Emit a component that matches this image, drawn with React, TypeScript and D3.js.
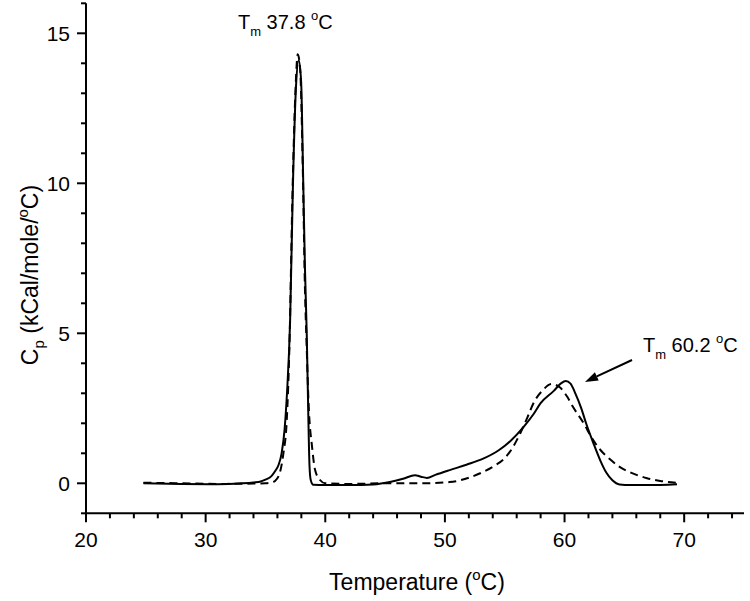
import React from "react";
import * as d3 from "d3";

const W = 750;
const H = 601;

const xTicksMajor = [20, 30, 40, 50, 60, 70];
const yTicksMajor = [0, 5, 10, 15];

// Solid trace (temperature °C, Cp kCal/mole/°C)
const solidT = [24.8, 28, 31, 33, 34, 34.6, 35.0, 35.5, 35.8, 36.1, 36.35, 36.6, 36.8, 37.06, 37.3, 37.55, 37.78, 37.98, 38.16, 38.3, 38.45, 38.59, 38.68, 38.78, 39.0, 40, 42, 44, 45.5, 46.5, 47.5, 48.0, 48.5, 49.2, 50.4, 51.8, 53.2, 54.5, 55.5, 56.6, 57.4, 58.0, 59.1, 59.7, 60.1, 60.5, 60.9, 61.4, 61.8, 62.4, 63.0, 63.5, 64.0, 64.6, 65.5, 67, 69.4];
const solidCp = [0.0, -0.02, -0.03, 0.0, 0.03, 0.06, 0.12, 0.24, 0.4, 0.62, 1.0, 1.8, 3.0, 5.4, 10.0, 13.2, 14.1, 13.4, 10.0, 7.2, 5.0, 2.1, 0.6, 0.12, -0.05, -0.06, -0.06, -0.04, 0.05, 0.15, 0.27, 0.22, 0.18, 0.28, 0.44, 0.62, 0.82, 1.1, 1.42, 1.89, 2.3, 2.67, 3.08, 3.33, 3.41, 3.32, 3.0, 2.5, 2.0, 1.35, 0.75, 0.35, 0.1, -0.04, -0.06, -0.06, -0.03];

// Dashed trace
const dashedT = [24.8, 28, 31, 34, 35, 35.5, 35.8, 36.2, 36.5, 36.78, 37.0, 37.25, 37.5, 37.7, 37.9, 38.12, 38.3, 38.45, 38.6, 38.9, 39.15, 39.56, 40.0, 42, 45, 47.9, 50.4, 52.1, 53.2, 54.2, 54.9, 55.6, 56.3, 56.9, 57.4, 58.2, 58.9, 59.6, 60.2, 60.7, 61.6, 62.3, 63.0, 63.8, 64.6, 65.7, 66.9, 68.0, 69.3];
const dashedCp = [0.02, 0.0, -0.02, -0.01, 0.0, 0.03, 0.08, 0.35, 1.0, 2.1, 4.5, 9.5, 13.0, 14.3, 13.8, 10.5, 6.5, 4.5, 2.7, 1.2, 0.44, 0.11, 0.0, -0.02, 0.0, 0.0, 0.04, 0.2, 0.38, 0.6, 0.8, 1.15, 1.67, 2.2, 2.67, 3.11, 3.31, 3.2, 2.9, 2.55, 2.0, 1.5, 1.11, 0.8, 0.55, 0.33, 0.17, 0.08, 0.02];

const arrowFrom = [65.64, 4.11];
const arrowTo = [61.71, 3.38];

export default function App() {
  const x = d3.scaleLinear().domain([20, 75]).range([86, 744]);
  const y = d3.scaleLinear().domain([-1, 16]).range([513.3, 3.3]);
  const x0 = x(20);
  const yb = y(-1);

  const line = d3
    .line<[number, number]>()
    .x((d) => x(d[0]))
    .y((d) => y(d[1]))
    .curve(d3.curveMonotoneX);

  const solid = solidT.map((t, i) => [t, solidCp[i]] as [number, number]);
  const dashed = dashedT.map((t, i) => [t, dashedCp[i]] as [number, number]);

  const xMinor = d3.range(20, 75.001, 2).filter((v) => !xTicksMajor.includes(v));
  const yMinor = d3.range(-1, 16.001, 1).filter((v) => !yTicksMajor.includes(v));

  const font = "Liberation Sans, Arial, sans-serif";

  // arrow geometry
  const ax1 = x(arrowFrom[0]);
  const ay1 = y(arrowFrom[1]);
  const ax2 = x(arrowTo[0]);
  const ay2 = y(arrowTo[1]);
  const ang = Math.atan2(ay2 - ay1, ax2 - ax1);
  const hl = 13;
  const hw = 4.5;
  const bx = ax2 - hl * Math.cos(ang);
  const by = ay2 - hl * Math.sin(ang);
  const head = `M${ax2},${ay2} L${bx + hw * Math.sin(ang)},${by - hw * Math.cos(ang)} L${bx - hw * Math.sin(ang)},${by + hw * Math.cos(ang)} Z`;

  return (
    <svg
      width={W}
      height={H}
      style={{ position: "absolute", left: 0, top: 0, background: "#fff" }}
      fontFamily={font}
    >
      <rect width={W} height={H} fill="#fff" />
      {/* curves */}
      <path d={line(dashed) || ""} fill="none" stroke="#000" strokeWidth={2} strokeDasharray="8,5" />
      <path d={line(solid) || ""} fill="none" stroke="#000" strokeWidth={2} />

      {/* axes */}
      <line x1={x0} x2={x0} y1={y(16)} y2={yb} stroke="#000" strokeWidth={2} />
      <line x1={x0 - 1} x2={x(75)} y1={yb} y2={yb} stroke="#000" strokeWidth={2} />
      {xTicksMajor.map((v) => (
        <g key={"xm" + v}>
          <line x1={x(v)} x2={x(v)} y1={yb} y2={yb + 9} stroke="#000" strokeWidth={2} />
          <text x={x(v)} y={547} textAnchor="middle" fontSize={21}>
            {v}
          </text>
        </g>
      ))}
      {xMinor.map((v) => (
        <line key={"xn" + v} x1={x(v)} x2={x(v)} y1={yb} y2={yb + 5} stroke="#000" strokeWidth={2} />
      ))}
      {yTicksMajor.map((v) => (
        <g key={"ym" + v}>
          <line x1={x0 - 9} x2={x0} y1={y(v)} y2={y(v)} stroke="#000" strokeWidth={2} />
          <text x={70} y={y(v) + 7.5} textAnchor="end" fontSize={21}>
            {v}
          </text>
        </g>
      ))}
      {yMinor.map((v) => (
        <line key={"yn" + v} x1={x0 - 5} x2={x0} y1={y(v)} y2={y(v)} stroke="#000" strokeWidth={2} />
      ))}

      {/* axis titles */}
      <text x={417} y={590} textAnchor="middle" fontSize={23}>
        Temperature (
        <tspan fontSize={15} dy={-10}>o</tspan>
        <tspan dy={10}>C)</tspan>
      </text>
      <text transform={`translate(38,${275}) rotate(-90)`} textAnchor="middle" fontSize={23}>
        C
        <tspan fontSize={15} dy={6}>p</tspan>
        <tspan dy={-6}> (kCal/mole/</tspan>
        <tspan fontSize={15} dy={-10}>o</tspan>
        <tspan dy={10}>C)</tspan>
      </text>

      {/* annotations */}
      <text x={238} y={29} fontSize={20}>
        T<tspan fontSize={13} dy={7}>m</tspan>
        <tspan dy={-7}> 37.8 </tspan>
        <tspan fontSize={13} dy={-9}>o</tspan>
        <tspan dy={9}>C</tspan>
      </text>
      <text x={643} y={352} fontSize={20}>
        T<tspan fontSize={13} dy={7}>m</tspan>
        <tspan dy={-7}> 60.2 </tspan>
        <tspan fontSize={13} dy={-9}>o</tspan>
        <tspan dy={9}>C</tspan>
      </text>
      <line x1={ax1} y1={ay1} x2={bx} y2={by} stroke="#000" strokeWidth={2} />
      <path d={head} fill="#000" />
    </svg>
  );
}
